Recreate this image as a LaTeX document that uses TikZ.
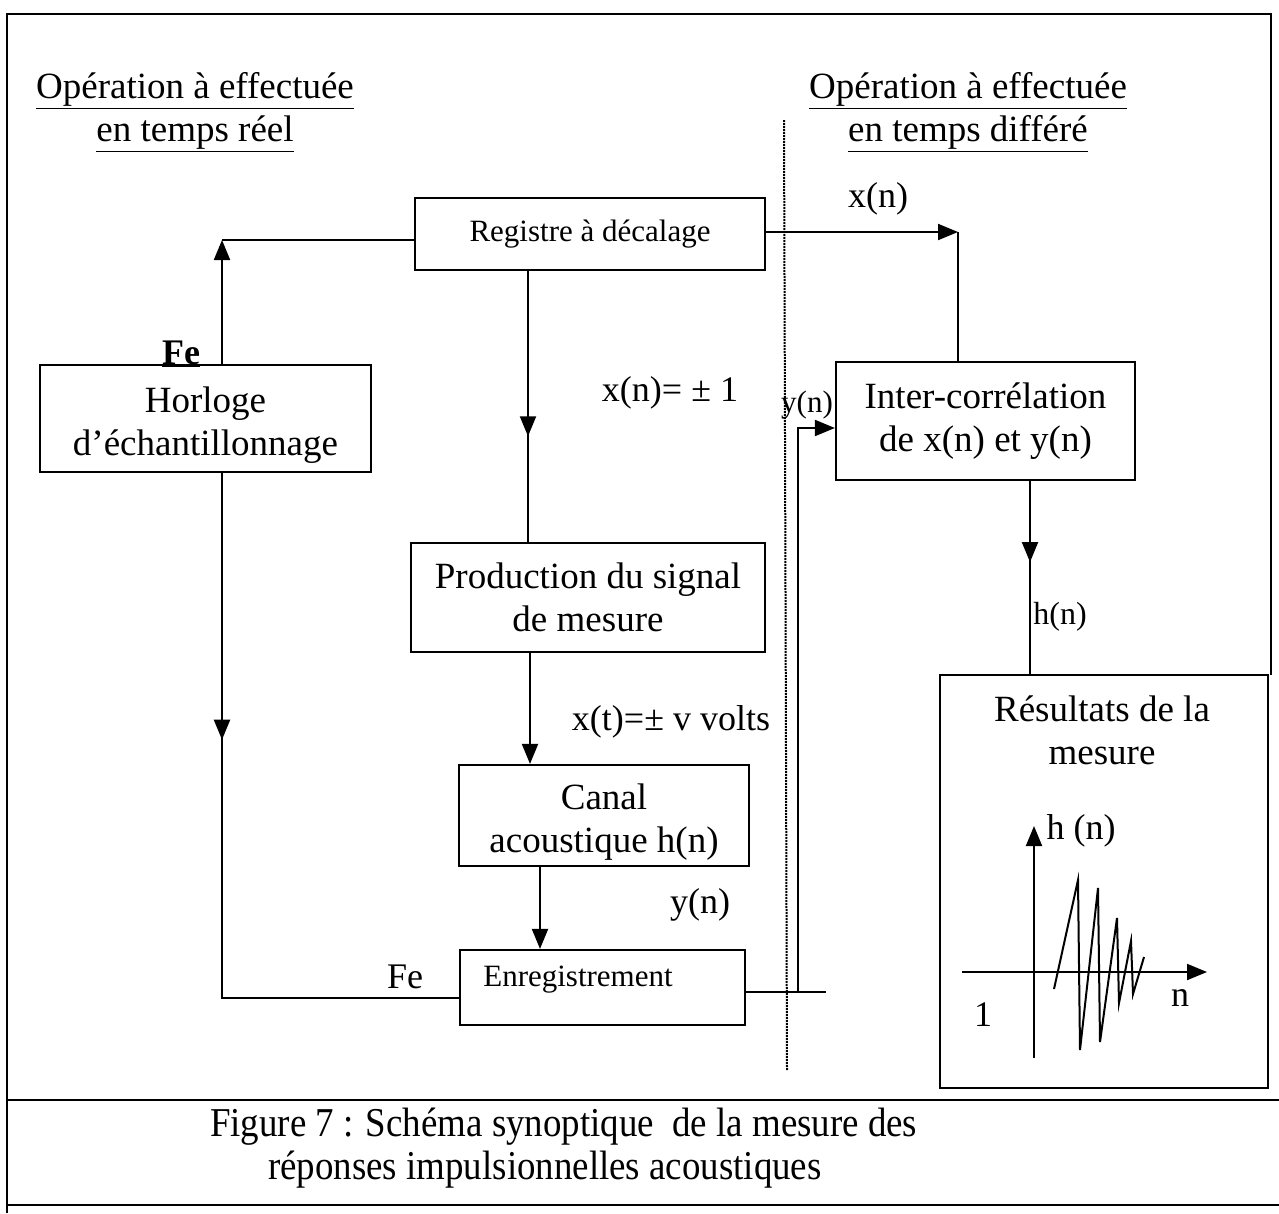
\documentclass[tikz,border=0pt]{standalone}
\usepackage{fontspec}
\setmainfont{Liberation Serif}
\newfontfamily\capfont[FakeStretch=0.9]{Liberation Serif}
\usetikzlibrary{arrows.meta,decorations.markings}

\begin{document}
\begin{tikzpicture}[x=1pt,y=-1pt,
  every node/.style={inner sep=0pt, font=\fontsize{37}{43}\selectfont},
  blk/.style={draw, line width=2.2pt, align=center},
  conn/.style={line width=2pt},
  frame/.style={line width=2.4pt},
  arr/.style={-{Triangle[length=20pt,width=16pt]}},
  midarr/.style={postaction={decorate}, decoration={markings,
      mark=at position #1 with {\arrow{Triangle[length=20pt,width=16pt]}}}},
  lbl/.style={font=\fontsize{36}{43}\selectfont},
  small/.style={font=\fontsize{31}{36}\selectfont},
  captext/.style={anchor=west, font=\capfont\fontsize{41}{46}\selectfont}]

\useasboundingbox (0,0) rectangle (1279,1213);

% outer frame and caption separators
\draw[frame] (1271,675) -- (1271,14) -- (7,14) -- (7,1213);
\draw[frame] (7,1100) -- (1279,1100);
\draw[frame] (7,1205) -- (1279,1205);

% boundary between real time and deferred time
\draw[line width=2pt, densely dotted] (784,120) -- (787,1070);

% section titles
\node[align=center] (tleft) at (195,112)
  {\underline{Opération à effectuée}\\\underline{en temps réel}};
\node[align=center] (tright) at (968,112)
  {\underline{Opération à effectuée}\\\underline{en temps différé}};

% blocks
\node[blk, minimum width=350pt, minimum height=72pt, small] (reg) at (590,234) {Registre à décalage};
\node[blk, minimum width=331pt, minimum height=107pt] (hor) at (205.5,418.5) {};
\node[align=center] (hortxt) at (205.5,425) {Horloge\\d’échantillonnage};
\node[blk, minimum width=354pt, minimum height=109pt] (prod) at (588,597.5) {Production du signal\\de mesure};
\node[blk, minimum width=290pt, minimum height=101pt] (canal) at (604,815.5) {};
\node[align=center] (canaltxt) at (604,822) {Canal\\acoustique h(n)};
\node[blk, minimum width=285pt, minimum height=75pt] (enr) at (602.5,987.5) {};
\node[small] (enrtxt) at (578,980) {Enregistrement};
\node[blk, minimum width=299pt, minimum height=118pt] (inter) at (985.5,421) {Inter-corrélation\\de x(n) et y(n)};
\node[blk, minimum width=328pt, minimum height=413pt] (res) at (1104,881.5) {};
\node[align=center] (restxt) at (1102,730) {Résultats de la\\mesure};

% clock to shift register
\coordinate (cTL) at (222,240);
\draw[conn, arr] (hor.north -| cTL) -- (cTL);
\draw[conn] (cTL) -- (reg.west |- cTL);
\node[font=\fontsize{36}{43}\selectfont\bfseries] (fetop) at (181,354) {\underline{Fe}};

% clock to recorder
\draw[conn, midarr=0.35] (hor.south -| cTL) |- ([yshift=-10.5pt]enr.west);
\node[lbl] (febot) at (405,977) {Fe};

% signal chain
\draw[conn, midarr=0.61] ([xshift=-62pt]reg.south) -- ([xshift=-60pt]prod.north);
\node[lbl] (lxn) at (670,393) {x(n)= ± 1};
\draw[conn, arr] ([xshift=-58pt]prod.south) -- ([xshift=-74pt]canal.north);
\node[lbl] (lxt) at (671,722) {x(t)=± v volts};
\draw[conn, arr] ([xshift=-64pt]canal.south) -- ([xshift=-62.5pt]enr.north);
\node[lbl] (lyn) at (700,905) {y(n)};

% recorded signal to correlation
\coordinate (yr) at (826,992);
\coordinate (yb) at (798,992);
\draw[conn] ([yshift=-4.5pt]enr.east) -- (yr);
\draw[conn, arr] (yb) |- ([yshift=-7pt]inter.west);
\node[font=\fontsize{31}{36}\selectfont] (lyn2) at (807,405) {y(n)};

% reference sequence to correlation
\coordinate (xc) at (958,232);
\draw[conn, arr] (reg.east |- xc) -- (xc);
\draw[conn] (xc) -- (inter.north -| xc);
\node[lbl] (lxn2) at (878,199) {x(n)};

% correlation to results
\draw[conn, midarr=0.42] ([xshift=44.5pt]inter.south) -- ([xshift=-74pt]res.north);
\node[font=\fontsize{32}{38}\selectfont] (lhn) at (1060,617) {h(n)};

% impulse response sketch
\coordinate (vb) at (1034,1058);
\coordinate (vt) at (1034,826);
\coordinate (hl) at (962,972);
\coordinate (hr) at (1207,972);
\draw[conn, arr] (vb) -- (vt);
\draw[conn, arr] (hl) -- (hr);
\draw[line width=2pt, line join=miter] (1054,989) -- (1078,880) -- (1080,1050) -- (1098,888)
  -- (1100,1042) -- (1117,918) -- (1119,1003) -- (1131,941) -- (1133,994) -- (1144,957);
\node[lbl] (lhn2) at (1081,831) {h (n)};
\node[lbl] (ln) at (1180,998) {n};
\node[lbl] (lone) at (983,1015) {1};

% caption
\node[captext] (cap1) at (210,1127)
  {Figure 7 : Schéma synoptique\ \ de la mesure des};
\node[captext] (cap2) at (268,1170)
  {réponses impulsionnelles acoustiques};
\end{tikzpicture}
\end{document}
